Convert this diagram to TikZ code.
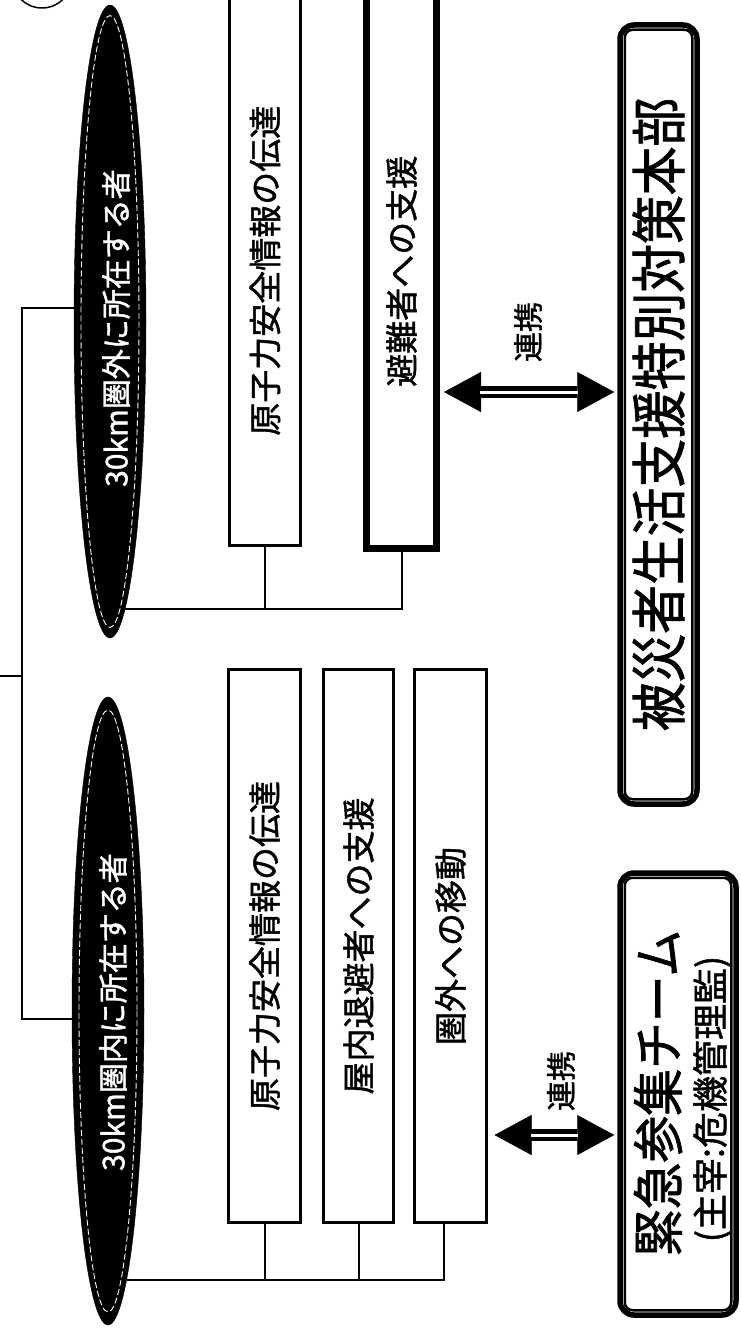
\documentclass[tikz,border=0pt]{standalone}
\usepackage{fontspec}
\setmainfont{Noto Sans CJK JP}[FakeBold=1.4]
\usetikzlibrary{shapes.geometric,arrows.meta,calc}
\newcommand{\jfs}[1]{\fontsize{#1}{#1}\selectfont}
\begin{document}
\begin{tikzpicture}[x=1pt,y=-1pt,
  conn/.style={line width=2pt},
  plainbox/.style={draw, line width=3pt, inner sep=0pt, fill=white, font={\jfs{33pt}}},
  thickbox/.style={plainbox, line width=7pt},
  hqbox/.style={draw, line width=5.5pt, rounded corners=14pt, inner sep=0pt},
  hqinner/.style={line width=2.5pt, rounded corners=8pt},
  ell/.style={ellipse, fill=black, draw=black, inner sep=0pt},
  ellhi/.style={white, line width=0.9pt, dash pattern=on 6pt off 3pt},
  etext/.style={rotate=90, text=white, font={\jfs{30pt}}, inner sep=0pt},
  linklab/.style={rotate=90, font={\jfs{30pt}}, inner sep=0pt},
  link/.style={line width=12pt, {Triangle[length=37pt,width=40pt,line width=0.5pt]}-{Triangle[length=37pt,width=40pt,line width=0.5pt]}},
  stripe/.style={white, line width=3pt, shorten <=36pt, shorten >=36pt}
]
\useasboundingbox (0,0) rectangle (740,1335);
\clip (0,0) rectangle (740,1335);
\fill[white] (0,0) rectangle (740,1335);

% partial circle at the top-left corner
\draw[line width=1.5pt] (42,-22) circle[radius=30];

% ellipses
\node[ell, minimum width=72pt, minimum height=633pt] (e1) at (110,321.5) {};
\node[ell, minimum width=72pt, minimum height=628pt] (e2) at (108,1011) {};
\draw[ellhi] (e1.center) ellipse[x radius=29, y radius=306];
\draw[ellhi] (e2.center) ellipse[x radius=29, y radius=301];
\node[etext] (t1) at (116,328) {30km圏外に所在する者};
\node[etext] (t2) at (113,1012) {30km圏内に所在する者};

% boxes, group outside 30 km
\node[plainbox, minimum width=71pt, minimum height=549.5pt] (bA) at (265,270.75) {\rotatebox{90}{原子力安全情報の伝達}};
\node[thickbox, minimum width=70pt, minimum height=554.5pt] (bB) at (401.5,271.25) {\rotatebox{90}{避難者への支援}};

% boxes, group inside 30 km
\node[plainbox, minimum width=72pt, minimum height=553pt] (bC) at (264.5,946) {\rotatebox{90}{原子力安全情報の伝達}};
\node[plainbox, minimum width=70pt, minimum height=553pt] (bD) at (358.5,946) {\rotatebox{90}{屋内退避者への支援}};
\node[plainbox, minimum width=72pt, minimum height=553pt] (bE) at (450.5,946) {\rotatebox{90}{圏外への移動}};

% headquarters
\node[hqbox, minimum width=77pt, minimum height=779pt] (hq) at (658.5,414.5)
  {\rotatebox{90}{\scalebox{0.87}[1]{\jfs{56pt}被災者生活支援特別対策本部}}};
\draw[hqinner] ([shift={(7.5pt,7.5pt)}]hq.south west) rectangle ([shift={(-7.5pt,-7.5pt)}]hq.north east);

% emergency team
\node[hqbox, minimum width=116pt, minimum height=442pt] (team) at (678,1094) {};
\draw[hqinner] ([shift={(7.5pt,7.5pt)}]team.south west) rectangle ([shift={(-7.5pt,-7.5pt)}]team.north east);
\node[rotate=90, font={\jfs{52pt}}, inner sep=0pt] (tt1) at (658,1093) {\scalebox{0.9}[1]{緊急参集チーム}};
\node[rotate=90, font={\jfs{36pt}}, inner sep=0pt] (tt2) at (712,1099) {(主宰:危機管理監)};

% bracket to the parent
\coordinate (root) at (0,676);
\coordinate (bk) at (22,676);
\draw[conn] (root) -- (bk);
\draw[conn] (e1.160) -| (bk) |- (e2.193);

% group connectors
\draw[conn] (e1.-87) -| (bB.south);
\draw[conn] (bA.south) -- (bA.south |- e1.-87);
\draw[conn] (e2.-86.4) -| ([xshift=-7pt]bE.south);
\draw[conn] (bC.south) -- (bC.south |- e2.-86.4);
\draw[conn] (bD.south) -- (bD.south |- e2.-86.4);

% cooperation arrows
\coordinate (a1s) at ([xshift=4pt,yshift=-120.75pt]bB.east);
\path (hq.west |- a1s) ++(-3pt,0) coordinate (a1e);
\draw[link] (a1s) -- (a1e);
\draw[stripe] (a1s) -- (a1e);
\node[linklab] (l1) at (528,332) {連携};

\coordinate (a2s) at ([xshift=6.5pt,yshift=-189pt]bE.east);
\path (team.west |- a2s) ++(-3pt,0) coordinate (a2e);
\draw[link] (a2s) -- (a2e);
\draw[stripe] (a2s) -- (a2e);
\node[linklab] (l2) at (561,1081) {連携};
\end{tikzpicture}
\end{document}
